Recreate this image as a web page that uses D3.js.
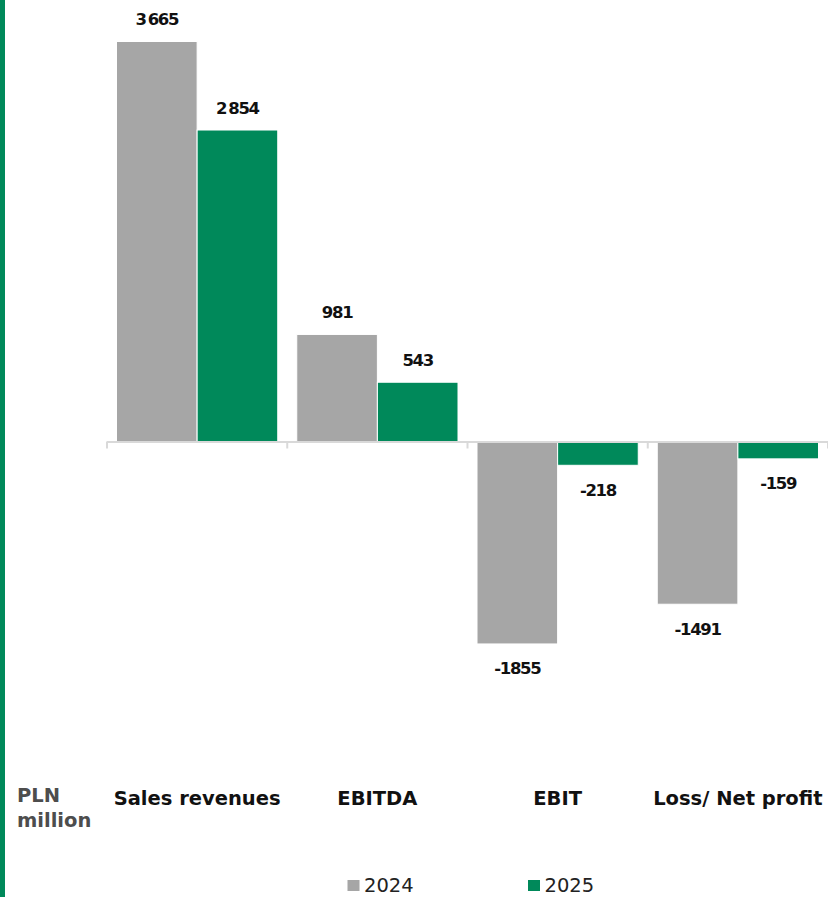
<!DOCTYPE html>
<html>
<head>
<meta charset="utf-8">
<script src="https://cdn.jsdelivr.net/npm/d3@7"></script>
<style>
  html, body { margin: 0; padding: 0; background: #fff; }
  svg { display: block; }
  text { font-family: "DejaVu Sans", sans-serif; }
</style>
</head>
<body>
<svg id="chart" width="828" height="897"></svg>
<script>
// Financial results, PLN million
const categories = ["Sales revenues", "EBITDA", "EBIT", "Loss/ Net profit"];
const seriesNames = ["2024", "2025"];
const values2024 = [3665, 981, -1855, -1491];
const values2025 = [2854, 543, -218, -159];
const seriesColors = ["#a6a6a6", "#00895a"];
const unitLabel = ["PLN", "million"];

const width = 828, height = 897;
const svg = d3.select("#chart");

// accent stripe on the left edge
svg.append("rect")
  .attr("x", 0).attr("y", 0)
  .attr("width", 5).attr("height", height)
  .attr("fill", "#00895a");

const x0 = d3.scaleBand()
  .domain(categories)
  .range([107, 828])
  .padding(0);

const x1 = d3.scaleBand()
  .domain(seriesNames)
  .range([9.5, x0.bandwidth() - 9.5])
  .padding(0);

// zero at y = 441.5; 3665 reaches y = 41.5
const y = d3.scaleLinear()
  .domain([0, 3665])
  .range([441.5, 41.5]);

const rows = categories.map((c, i) => ({
  category: c,
  values: [
    { series: seriesNames[0], value: values2024[i], color: seriesColors[0] },
    { series: seriesNames[1], value: values2025[i], color: seriesColors[1] }
  ]
}));

const groups = svg.append("g").selectAll("g")
  .data(rows)
  .join("g")
  .attr("transform", d => `translate(${x0(d.category)},0)`);

groups.selectAll("rect")
  .data(d => d.values)
  .join("rect")
  .attr("x", d => x1(d.series))
  .attr("width", x1.bandwidth())
  .attr("y", d => y(Math.max(0, d.value)))
  .attr("height", d => Math.abs(y(d.value) - y(0)))
  .attr("fill", d => d.color)
  .attr("stroke", "#fff")
  .attr("stroke-width", 1);

// value labels
const fmtGroup = d3.formatLocale({ decimal: ",", thousands: "\u2009", grouping: [3], currency: ["", ""] }).format(",d");
const fmtLabel = v => v >= 1000 ? fmtGroup(v) : String(v);

groups.selectAll("text.value")
  .data(d => d.values)
  .join("text")
  .attr("class", "value")
  .attr("x", d => x1(d.series) + x1.bandwidth() / 2)
  .attr("y", d => d.value >= 0 ? y(d.value) - 16.5 : y(d.value) + 30.5)
  .attr("text-anchor", "middle")
  .attr("font-size", 16.5)
  .attr("font-weight", 700)
  .attr("letter-spacing", -1.3)
  .attr("fill", "#111")
  .text(d => fmtLabel(d.value));

// baseline with ticks at band boundaries
const axisG = svg.append("g").attr("stroke", "#d9d9d9").attr("stroke-width", 2);
axisG.append("line")
  .attr("x1", x0.range()[0]).attr("x2", x0.range()[1])
  .attr("y1", y(0) + 0.5).attr("y2", y(0) + 0.5);
const tickXs = categories.map(c => x0(c)).concat([x0.range()[1]]);
axisG.selectAll("line.tick")
  .data(tickXs)
  .join("line")
  .attr("class", "tick")
  .attr("x1", d => d).attr("x2", d => d)
  .attr("y1", y(0)).attr("y2", y(0) + 7);

// category labels
svg.append("g").selectAll("text")
  .data(categories)
  .join("text")
  .attr("x", d => x0(d) + x0.bandwidth() / 2)
  .attr("y", 805)
  .attr("text-anchor", "middle")
  .attr("font-size", 19.5)
  .attr("font-weight", 700)
  .attr("fill", "#111")
  .text(d => d);

// unit label
svg.append("text")
  .attr("x", 17).attr("y", 802)
  .attr("font-size", 19.5)
  .attr("font-weight", 700)
  .attr("fill", "#4d4d4d")
  .selectAll("tspan")
  .data(unitLabel)
  .join("tspan")
  .attr("x", 17)
  .attr("dy", (d, i) => i === 0 ? 0 : 25)
  .text(d => d);

// legend
const legendX = [347.5, 528];
const legend = svg.append("g").selectAll("g")
  .data(seriesNames)
  .join("g")
  .attr("transform", (d, i) => `translate(${legendX[i]},880)`);
legend.append("rect")
  .attr("width", 12).attr("height", 11)
  .attr("fill", (d, i) => seriesColors[i]);
legend.append("text")
  .attr("x", 16.5).attr("y", 11.5)
  .attr("font-size", 19.5)
  .attr("fill", "#222")
  .text(d => d);
</script>
</body>
</html>
